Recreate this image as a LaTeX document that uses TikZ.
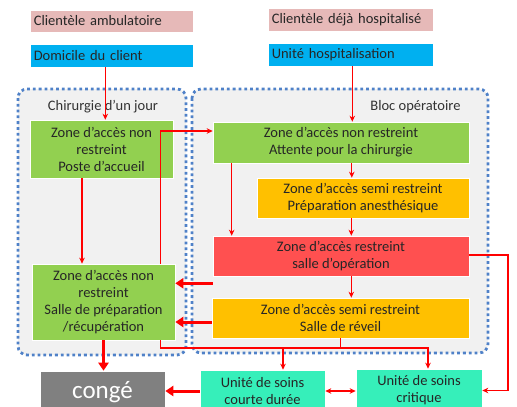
\documentclass[tikz,border=0pt]{standalone}
\usepackage{fontspec}
\setmainfont{Carlito}
\usetikzlibrary{arrows.meta,calc}
\definecolor{pinkc}{HTML}{E6B9B8}
\definecolor{bluec}{HTML}{00B0F0}
\definecolor{greenc}{HTML}{92D050}
\definecolor{orangec}{HTML}{FFC000}
\definecolor{redc}{HTML}{FF5050}
\definecolor{tealc}{HTML}{36EFBA}
\definecolor{grayc}{HTML}{808080}
\definecolor{dotc}{HTML}{4F81C8}
\definecolor{bgc}{HTML}{F1F1F1}
\definecolor{linec}{HTML}{FF0000}
\tikzset{
  box/.style={draw=white, line width=0.6pt, inner sep=1pt, align=center,
    font=\fontsize{14.5}{17}\selectfont, text=black!85},
  zone/.style={rectangle, rounded corners=9pt, fill=bgc, draw=dotc,
    line width=2.8pt, dash pattern=on 2.8pt off 3pt},
  thin/.style={draw=linec, line width=1.3pt, -{Stealth[length=6pt,width=5.5pt]}},
  thinline/.style={draw=linec, line width=1.3pt},
  thick/.style={draw=linec, line width=3pt, -{Stealth[length=8pt,width=10pt,inset=0pt]}},
  both/.style={draw=linec, line width=1.3pt, {Stealth[length=6pt,width=5.5pt]}-{Stealth[length=6pt,width=5.5pt]}},
}
\begin{document}
\begin{tikzpicture}[x=1pt,y=-1pt]
\useasboundingbox (0,0) rectangle (517,407);
% containers
\draw[zone] (18,89) rectangle (186,355);
\draw[zone] (192,89) rectangle (488,353);
\node[font=\fontsize{14.5}{17}\selectfont, text=black!80] (lbl1) at (103,107) {Chirurgie d’un jour};
\node[font=\fontsize{14.5}{17}\selectfont, text=black!80, anchor=east] (lbl2) at (464,107) {Bloc opératoire};
% top boxes
\node[box, fill=pinkc, minimum width=163pt, minimum height=22pt, anchor=west, text width=156pt, align=left] (amb) at (30,21) {Clientèle ambulatoire};
\node[box, fill=bluec, minimum width=163pt, minimum height=23pt, anchor=west, text width=156pt, align=left] (dom) at (30,55.5) {Domicile du client};
\node[box, fill=pinkc, minimum width=165pt, minimum height=23pt, anchor=west, text width=158pt, align=left] (hosp) at (268,19.5) {Clientèle déjà hospitalisé};
\node[box, fill=bluec, minimum width=165pt, minimum height=23pt, anchor=west, text width=158pt, align=left] (uh) at (268,54.5) {Unité hospitalisation};
% zone boxes
\node[box, fill=greenc, minimum width=143pt, minimum height=58pt] (g1) at (101.5,149) {Zone d’accès non\\restreint\\Poste d’accueil};
\node[box, fill=greenc, minimum width=143pt, minimum height=76pt] (g2) at (103.5,302) {Zone d’accès non\\restreint\\Salle de préparation\\/récupération};
\node[box, fill=greenc, minimum width=256pt, minimum height=41pt] (rg) at (341,142.5) {Zone d’accès non restreint\\Attente pour la chirurgie};
\node[box, fill=orangec, minimum width=212pt, minimum height=40pt] (o1) at (363,198) {Zone d’accès semi restreint\\Préparation anesthésique};
\node[box, fill=redc, minimum width=256pt, minimum height=40pt] (red) at (341,256) {Zone d’accès restreint\\salle d’opération};
\node[box, fill=orangec, minimum width=257pt, minimum height=40pt] (o2) at (340.5,318) {Zone d’accès semi restreint\\Salle de réveil};
% bottom boxes
\node[box, fill=grayc, minimum width=125pt, minimum height=42pt, text=white, font=\fontsize{25}{27}\selectfont] (conge) at (102.5,392) {congé};
\node[box, fill=tealc, minimum width=125pt, minimum height=42pt] (cd) at (262.5,391) {Unité de soins\\courte durée};
\node[box, fill=tealc, minimum width=126pt, minimum height=43pt] (cr) at (419,390.5) {Unité de soins\\critique};
% connectors
\coordinate (bus) at (0,348);
\coordinate (rside) at (508,0);
\draw[thin] ([xshift=-6.5pt]dom.south) -- ([xshift=-6.5pt]dom.south |- g1.north);
\draw[thin] ([xshift=1.5pt]uh.south) -- ([xshift=1.5pt]uh.south |- rg.north);
\draw[thin] ([xshift=1pt]uh.south |- rg.south) -- ([xshift=1pt]uh.south |- o1.north);
\draw[thin] ([xshift=0.5pt]uh.south |- o1.south) -- ([xshift=0.5pt]uh.south |- red.north);
\draw[thin] ([xshift=0.5pt]uh.south |- red.south) -- ([xshift=0.5pt]uh.south |- o2.north);
\draw[thin] ([xshift=19pt]rg.south west) -- ([xshift=19pt]rg.south west |- red.north);
\draw[thin] ([xshift=-19.5pt]g1.south) -- ([xshift=-19.5pt]g1.south |- g2.north);
\draw[thin] ([xshift=-15pt]g2.north east) |- ([yshift=11.5pt]rg.west);
\draw[thick] ([yshift=-7pt]red.south west) -- ([yshift=-7pt]red.south west -| g2.east);
\draw[thick] ([yshift=-4pt]o2.west) -- ([yshift=-4pt]o2.west -| g2.east);
\draw[thick] (g2.south) -- (g2.south |- conge.north);
\draw[thin] ([xshift=-15pt]g2.south east) |- ([xshift=9pt]cr.north |- bus) -- ([xshift=9pt]cr.north);
\draw[thinline] (o2.south) -- (o2.south |- bus);
\draw[thin] ([xshift=20.5pt]cd.north |- bus) -- ([xshift=20.5pt]cd.north);
\draw[thinline] ([yshift=1pt]red.east) -- ([yshift=1pt]red.east -| rside) -- (rside |- cr.east);
\draw[thin] (rside |- cr.east) -- (cr.east);
\draw[both] (cd.east) -- (cd.east -| cr.west);
\draw[thick] (cd.west) -- (cd.west -| conge.east);
\end{tikzpicture}
\end{document}
